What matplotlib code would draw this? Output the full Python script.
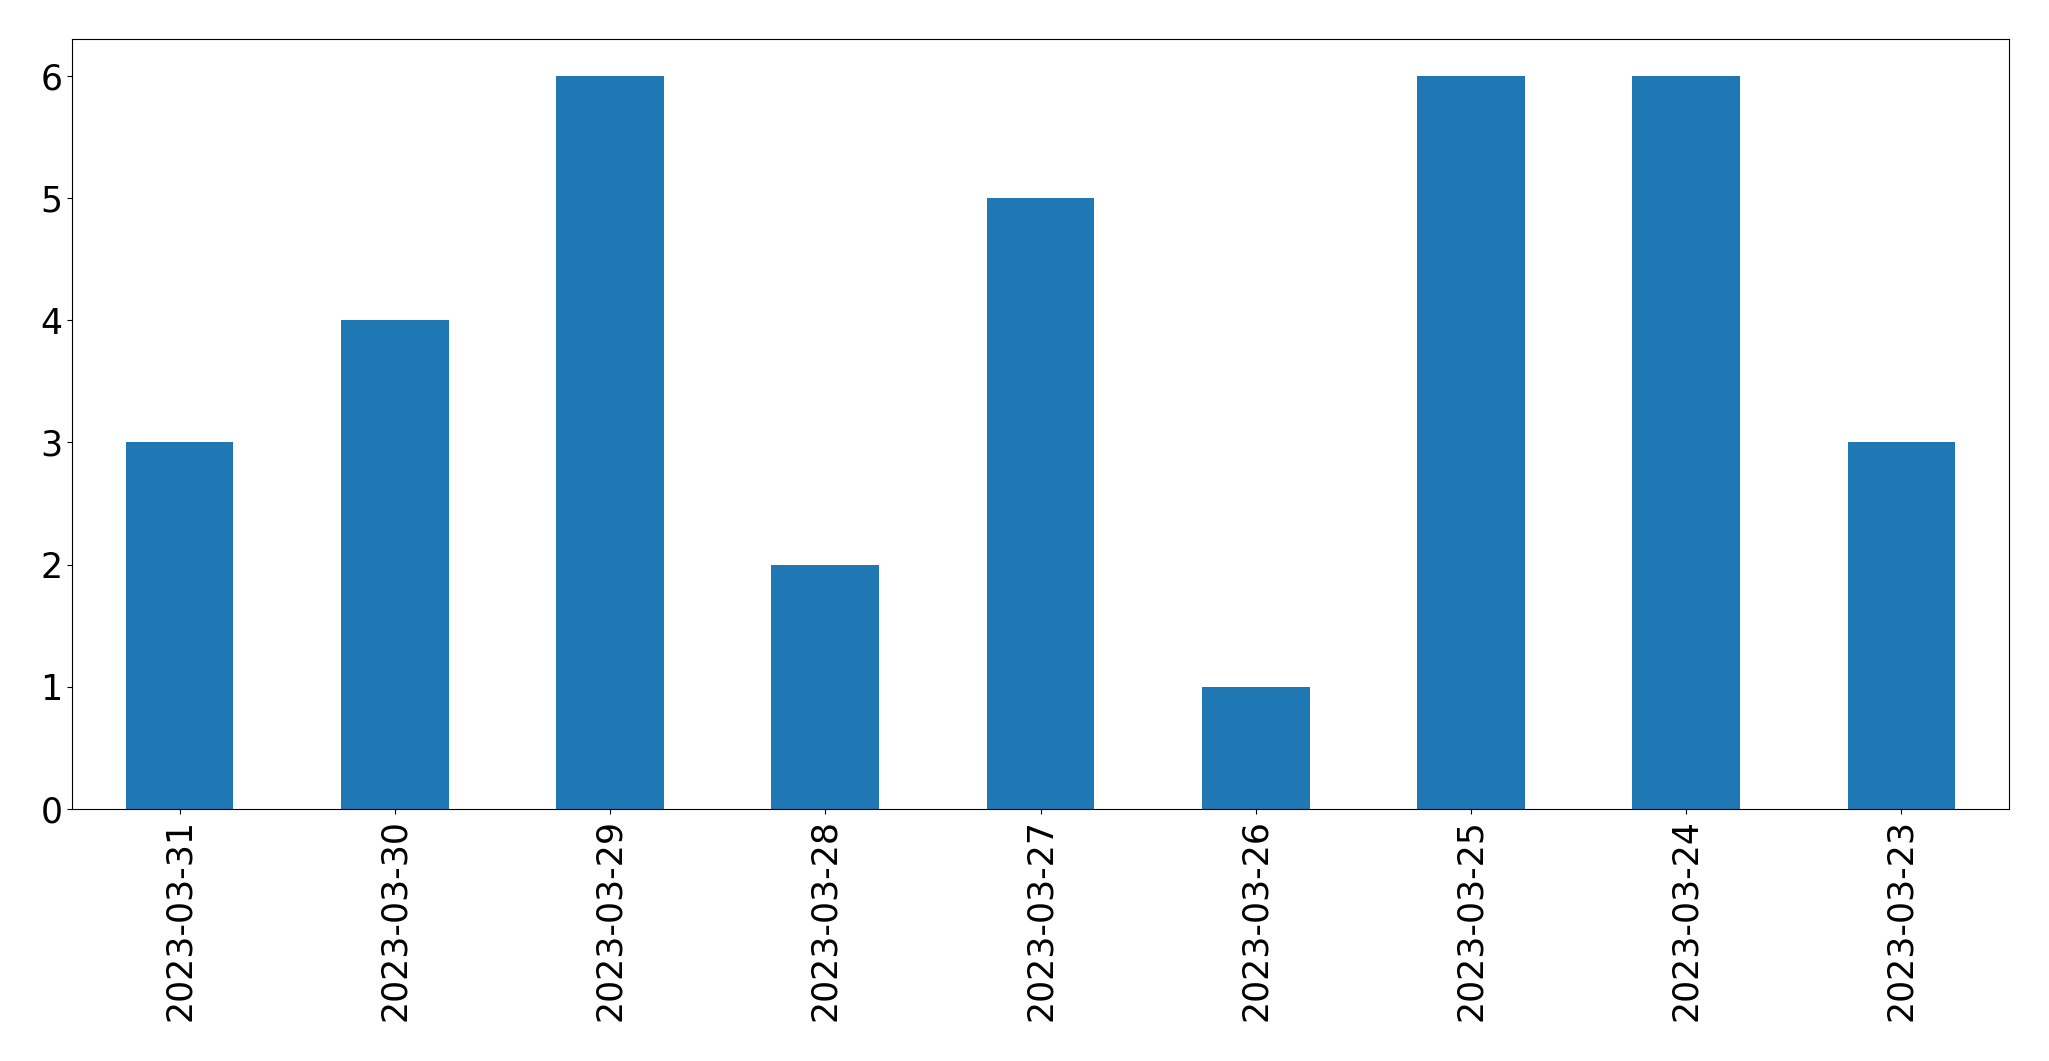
import matplotlib
matplotlib.use("Agg")
import matplotlib.pyplot as plt

dates = ["2023-03-31", "2023-03-30", "2023-03-29", "2023-03-28", "2023-03-27",
         "2023-03-26", "2023-03-25", "2023-03-24", "2023-03-23"]
counts = [3, 4, 6, 2, 5, 1, 6, 6, 3]

W, H = 2049, 1061
fig = plt.figure(figsize=(W / 100, H / 100), dpi=100)
ax = fig.add_axes([72 / W, 1 - 809 / H, (2009 - 72) / W, (809 - 39) / H])

x = list(range(len(dates)))
ax.bar(x, counts, width=0.5, color="#1f77b4")
ax.set_xlim(-0.5, len(dates) - 0.5)
ax.set_ylim(0, 6.3)
ax.set_xticks(x)
ax.set_xticklabels(dates, rotation=90)
ax.set_yticks(range(0, 7))
ax.tick_params(axis="both", labelsize=25)

fig.savefig("out.png", dpi=100)
